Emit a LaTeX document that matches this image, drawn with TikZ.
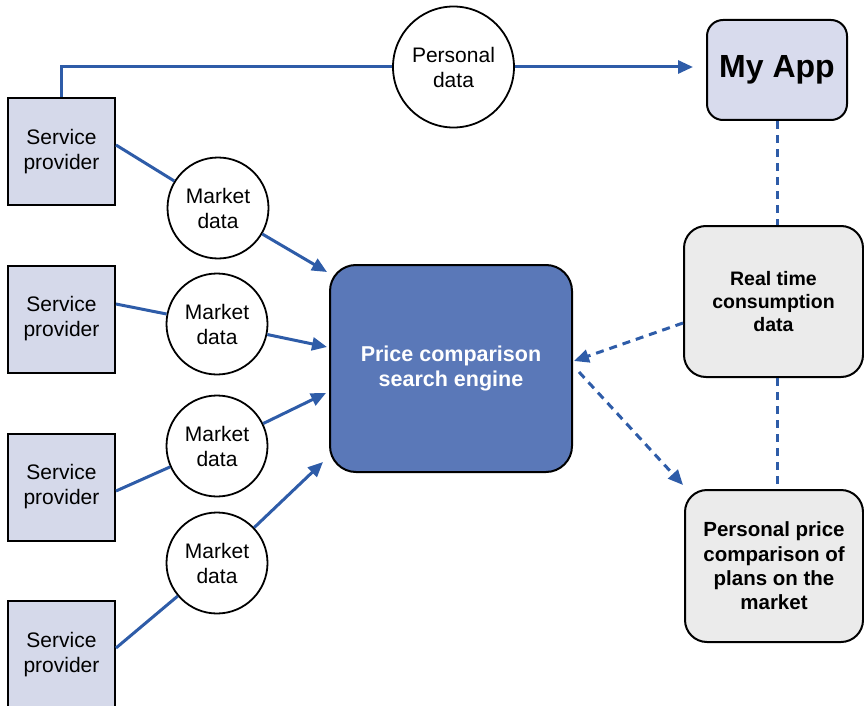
\documentclass[tikz,border=0pt]{standalone}
\usepackage{fontspec}
\setmainfont{Liberation Sans}
\usetikzlibrary{arrows.meta}
\definecolor{lineblue}{RGB}{46,92,168}
\definecolor{engfill}{RGB}{90,120,184}
\definecolor{spfill}{RGB}{213,217,234}
\definecolor{appfill}{RGB}{216,219,237}
\definecolor{grayfill}{RGB}{235,235,235}
\tikzset{
  spbox/.style={draw=black,line width=2pt,fill=spfill,minimum width=107pt,minimum height=107pt,inner sep=0pt,align=center,font=\fontsize{21}{25}\selectfont},
  datacirc/.style={circle,draw=black,line width=1.8pt,fill=white,minimum size=101pt,inner sep=0pt,align=center,font=\fontsize{21}{25}\selectfont},
  graybox/.style={draw=black,line width=2pt,fill=grayfill,rounded corners=22pt,inner sep=0pt,align=center},
  link/.style={draw=lineblue,line width=3pt},
  arrowlink/.style={link,-{Triangle[length=15pt,width=13pt]}},
  dashlink/.style={draw=lineblue,line width=3pt,dash pattern=on 8pt off 6pt},
  dasharrow/.style={dashlink,-{Triangle[length=15pt,width=13pt]}}
}
\begin{document}
\begin{tikzpicture}[x=1pt,y=-1pt]
\useasboundingbox (0,0) rectangle (864,706);
\clip (0,0) rectangle (864,706);
% service providers
\node[spbox] (sp1) at (61.5,151.5) {Service\\provider};
\node[spbox] (sp2) at (61.5,319) {Service\\provider};
\node[spbox] (sp3) at (61.5,487) {Service\\provider};
\node[spbox] (sp4) at (61.5,654.5) {Service\\provider};
% market data
\node[datacirc] (m1) at (218,208) {Market\\data};
\node[datacirc] (m2) at (217,324) {Market\\data};
\node[datacirc] (m3) at (217,446) {Market\\data};
\node[datacirc] (m4) at (217,563) {Market\\data};
% personal data
\node[datacirc,minimum size=121pt] (pd) at (453.5,67) {Personal\\data};
% my app
\node[draw=black,line width=2pt,fill=appfill,rounded corners=16pt,minimum width=140pt,minimum height=100pt,inner sep=0pt,font=\fontsize{32}{36}\selectfont\bfseries] (app) at (777,70) {My App};
% engine
\node[draw=black,line width=2pt,fill=engfill,rounded corners=26pt,minimum width=242pt,minimum height=207pt,inner sep=0pt,align=center,text=white,font=\fontsize{21.5}{25}\selectfont\bfseries] (eng) at (451,368.5) {Price comparison\\search engine};
% right boxes
\node[graybox,minimum width=179pt,minimum height=151pt,font=\fontsize{19.5}{23}\selectfont\bfseries] (rt) at (773.5,301.5) {Real time\\consumption\\data};
\node[graybox,minimum width=178pt,minimum height=152pt,font=\fontsize{20.5}{24.3}\selectfont\bfseries] (pp) at (774,566) {Personal price\\comparison of\\plans on the\\market};
% arrow end points
\coordinate (t0) at (693,67);
\coordinate (t1) at (327,272);
\coordinate (t2) at (327,347);
\coordinate (t3) at (326,393);
\coordinate (t4) at (323,462);
% top connector
\draw[link] (sp1.north) |- (pd);
\draw[arrowlink] (pd) -- (t0);
% market data connectors
\draw[link] ([yshift=6.5pt]sp1.east) -- (m1);
\draw[arrowlink] (m1) -- (t1);
\draw[link] ([yshift=15pt]sp2.east) -- (m2);
\draw[arrowlink] (m2) -- (t2);
\draw[link] ([yshift=-4pt]sp3.east) -- (m3);
\draw[arrowlink] (m3) -- (t3);
\draw[link] ([yshift=6.5pt]sp4.east) -- (m4);
\draw[arrowlink] (m4) -- (t4);
% dashed connectors
\draw[dashlink] (app.south) -- (app.south |- rt.north);
\draw[dashlink] (app.south |- rt.south) -- (app.south |- pp.north);
\draw[dasharrow] ([yshift=-21.5pt]rt.west) -- ([xshift=1pt,yshift=7.5pt]eng.east);
\draw[dasharrow] ([xshift=6pt,yshift=-3.5pt]eng.east) -- ([xshift=-1pt,yshift=4pt]pp.north west);
\end{tikzpicture}
\end{document}
